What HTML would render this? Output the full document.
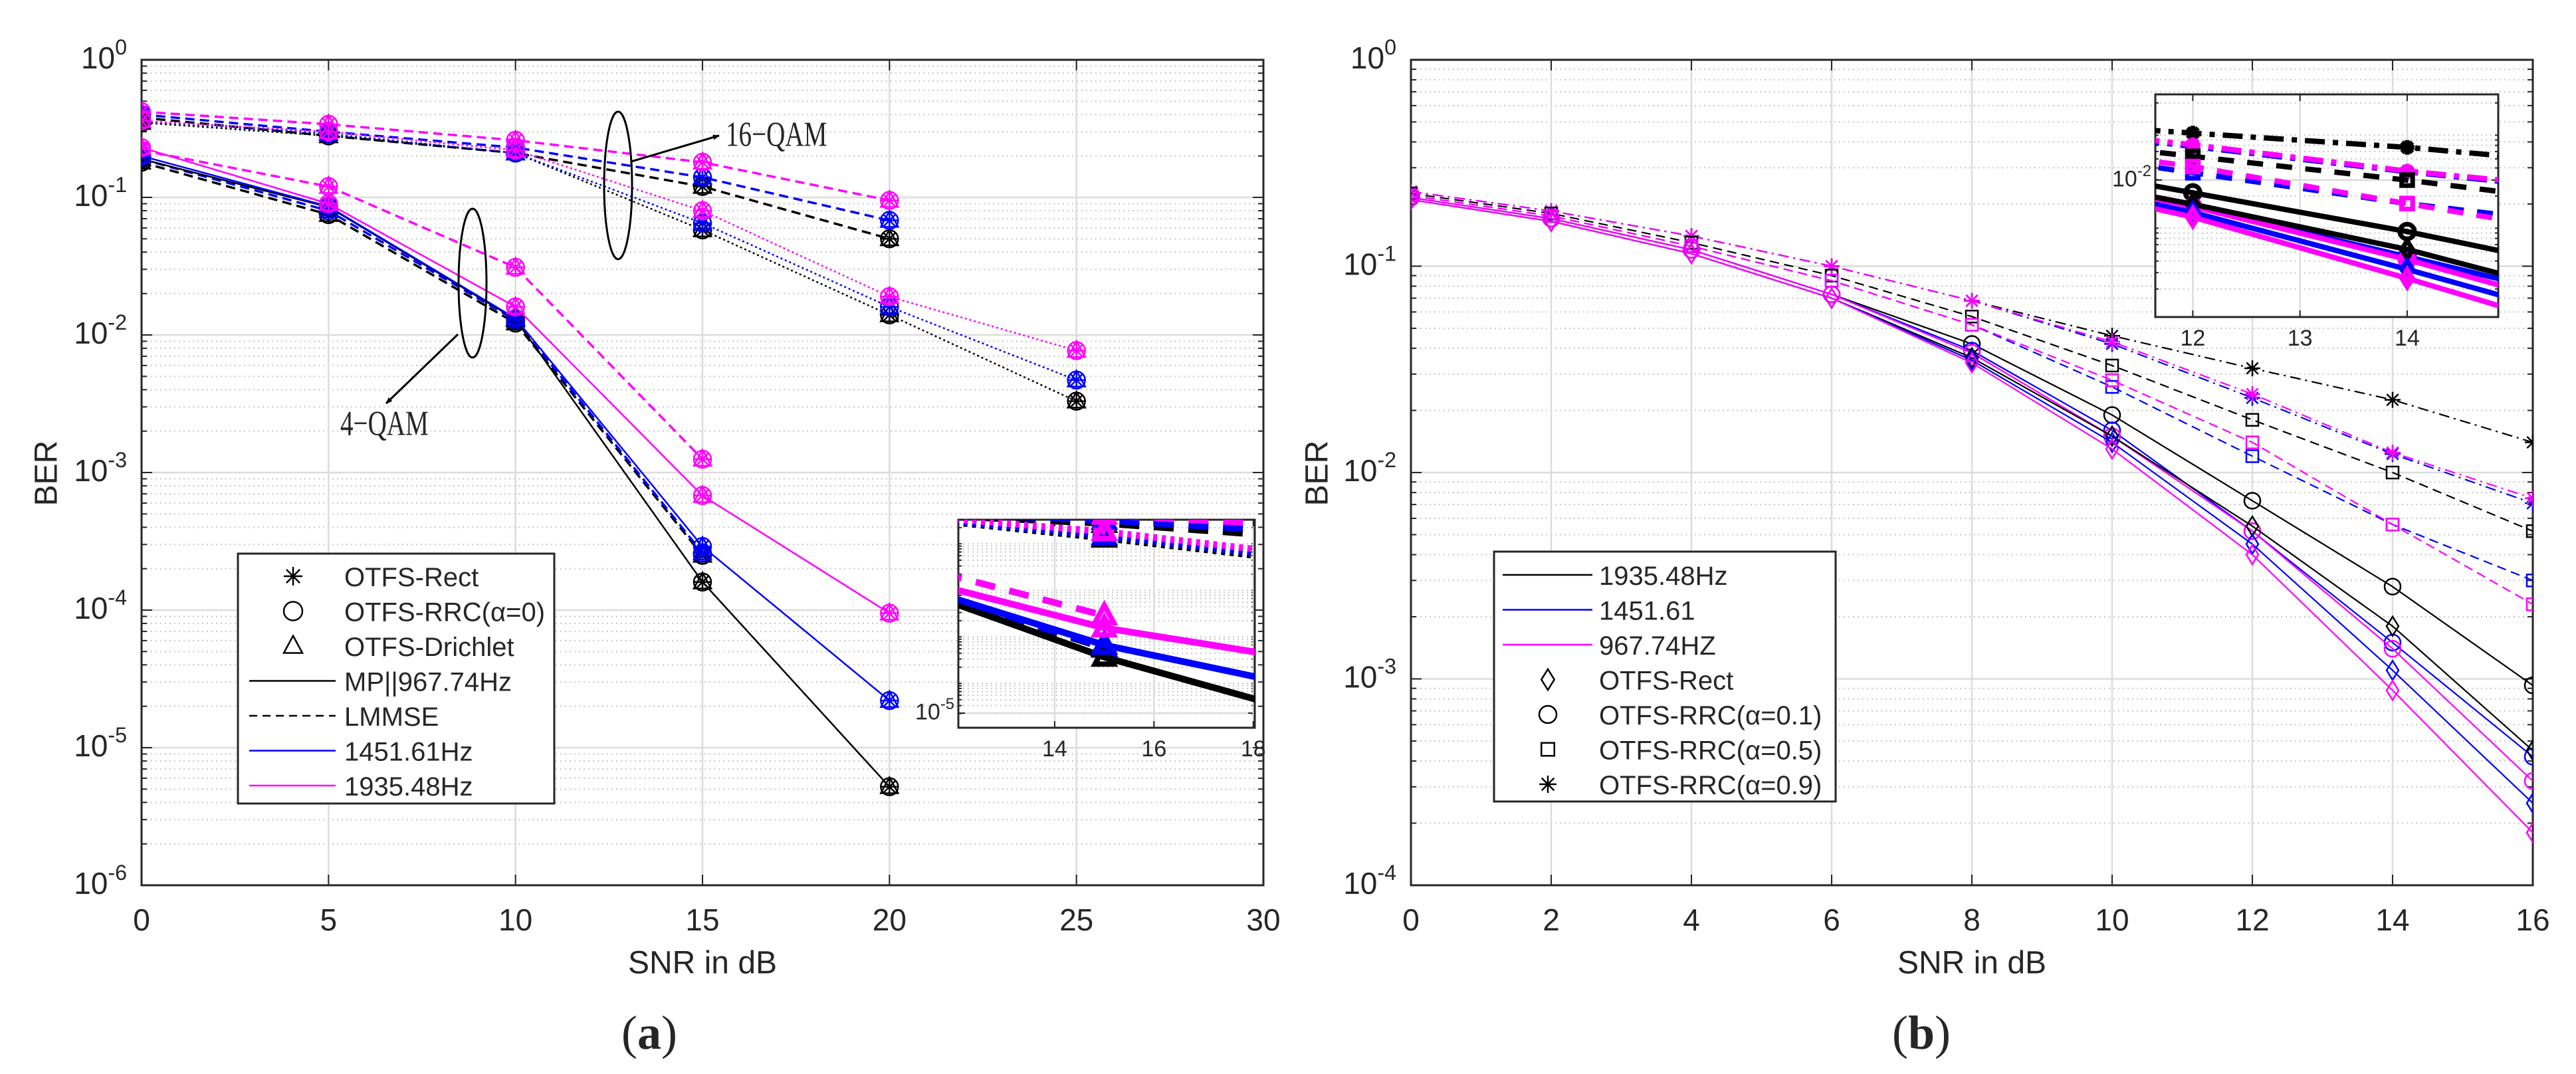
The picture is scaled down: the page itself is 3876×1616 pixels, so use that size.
<!DOCTYPE html>
<html><head><meta charset="utf-8">
<style>
html,body{margin:0;padding:0;background:#fff;}
svg{display:block;}
text{font-family:"Liberation Sans",sans-serif;fill:#262626;}
</style></head>
<body>
<svg id="fig" width="3876" height="1616" viewBox="0 0 3876 1616" xmlns="http://www.w3.org/2000/svg">
<defs>
<clipPath id="clipA"><rect x="213" y="90" width="1688" height="1242"/></clipPath>
<clipPath id="clipB"><rect x="2123" y="90" width="1688" height="1242"/></clipPath>
<clipPath id="clipIA"><rect x="1442" y="782" width="446" height="313"/></clipPath>
<clipPath id="clipIB"><rect x="3243" y="142" width="516" height="335"/></clipPath>
<marker id="arrowhead" markerWidth="10" markerHeight="8" refX="9" refY="4" orient="auto" markerUnits="userSpaceOnUse" viewBox="0 0 10 8"><path d="M0,0 L10,4 L0,8 Z" fill="#000"/></marker>
</defs>
</svg>
<script>
// ===== Chart (a) data =====
const snrA = [0, 5, 10, 15, 20, 25];
const xTicksA = [0, 5, 10, 15, 20, 25, 30];
const yDecadesA = [0, -1, -2, -3, -4, -5, -6];
// 4-QAM MP (solid)
const qam4MpBlack = [0.19, 0.085, 0.013, 1.6e-4, 5.2e-6];
const qam4MpBlue = [0.20, 0.086, 0.0132, 2.9e-4, 2.2e-5];
const qam4MpMagenta = [0.23, 0.09, 0.016, 6.8e-4, 9.5e-5];
// 4-QAM LMMSE (dashed)
const qam4LmBlack = [0.18, 0.075, 0.0122, 2.5e-4];
const qam4LmBlue = [0.19, 0.08, 0.0128, 2.6e-4];
const qam4LmMagenta = [0.22, 0.12, 0.031, 1.25e-3];
// 16-QAM LMMSE (dashed)
const qam16LmBlack = [0.38, 0.28, 0.21, 0.12, 0.05];
const qam16LmBlue = [0.40, 0.30, 0.23, 0.14, 0.068];
const qam16LmMagenta = [0.42, 0.34, 0.26, 0.18, 0.095];
// 16-QAM MP (dotted)
const qam16MpBlack = [0.35, 0.28, 0.21, 0.058, 0.014, 0.0033];
const qam16MpBlue = [0.36, 0.29, 0.21, 0.065, 0.016, 0.0047];
const qam16MpMagenta = [0.36, 0.30, 0.22, 0.08, 0.019, 0.0077];

// ===== Chart (b) data =====
const snrB = [0, 2, 4, 6, 8, 10, 12, 14, 16];
const xTicksB = [0, 2, 4, 6, 8, 10, 12, 14, 16];
const yDecadesB = [0, -1, -2, -3, -4];
const rectBlack = [0.21, 0.165, 0.115, 0.07, 0.036, 0.015, 0.0055, 0.0018, 0.00045];
const rectBlue = [0.21, 0.165, 0.115, 0.07, 0.035, 0.014, 0.0045, 0.0011, 0.00025];
const rectMagenta = [0.21, 0.165, 0.115, 0.07, 0.034, 0.013, 0.004, 0.00088, 0.00018];
const rrc01Black = [0.215, 0.17, 0.12, 0.073, 0.042, 0.019, 0.0073, 0.0028, 0.00093];
const rrc01Blue = [0.215, 0.17, 0.12, 0.073, 0.039, 0.016, 0.0052, 0.0015, 0.00042];
const rrc01Magenta = [0.215, 0.17, 0.12, 0.073, 0.038, 0.015, 0.0052, 0.0014, 0.00032];
const rrc05Black = [0.225, 0.18, 0.13, 0.09, 0.057, 0.033, 0.018, 0.010, 0.0052];
const rrc05Blue = [0.22, 0.175, 0.125, 0.085, 0.052, 0.026, 0.012, 0.0056, 0.003];
const rrc05Magenta = [0.22, 0.175, 0.125, 0.085, 0.052, 0.028, 0.014, 0.0056, 0.0023];
const rrc09Black = [0.23, 0.185, 0.14, 0.10, 0.068, 0.046, 0.032, 0.0225, 0.014];
const rrc09Blue = [0.23, 0.185, 0.14, 0.10, 0.068, 0.042, 0.023, 0.0123, 0.0071];
const rrc09Magenta = [0.23, 0.185, 0.14, 0.10, 0.068, 0.043, 0.024, 0.0125, 0.0075];

const NS = "http://www.w3.org/2000/svg";
const svg = document.getElementById('fig');
const BLACK = '#000', BLUE = '#0000ff', MAG = '#ff00ff';

function el(tag, attrs, parent) {
  const e = document.createElementNS(NS, tag);
  for (const k in attrs) e.setAttribute(k, attrs[k]);
  (parent || svg).appendChild(e);
  return e;
}
function txt(x, y, s, size, anchor, parent, extra) {
  const t = el('text', Object.assign({x: x, y: y, 'font-size': size, 'text-anchor': anchor || 'middle', 'dominant-baseline': 'central'}, extra || {}), parent);
  t.textContent = s;
  return t;
}

function makeAxes(ax) {
  ax.sx = v => ax.x0 + (v - ax.xmin) / (ax.xmax - ax.xmin) * (ax.x1 - ax.x0);
  ax.sy = v => ax.y0 + (ax.lmax - Math.log10(v)) / (ax.lmax - ax.lmin) * (ax.y1 - ax.y0);
  return ax;
}

function drawFrame(ax, xticks, decades, name, tickSize, decadeLabels) {
  const g = el('g', {});
  
  
  el('rect', {x: ax.x0, y: ax.y0, width: ax.x1 - ax.x0, height: ax.y1 - ax.y0, fill: '#fff'}, g);
  for (let d = ax.lmin; d < ax.lmax; d++) {
    for (let k = 2; k <= 9; k++) {
      const y = ax.sy(k * Math.pow(10, d));
      if (y < ax.y0 || y > ax.y1) continue;
      const ln = el('line', {x1: ax.x0, x2: ax.x1, y1: y, y2: y, stroke: '#c8c8c8', 'stroke-width': 2, 'stroke-dasharray': '2,5'}, g);
      
      
      el('line', {x1: ax.x0, x2: ax.x0 + ax.tk * 0.5, y1: y, y2: y, stroke: '#262626', 'stroke-width': 2}, g);
      el('line', {x1: ax.x1, x2: ax.x1 - ax.tk * 0.5, y1: y, y2: y, stroke: '#262626', 'stroke-width': 2}, g);
    }
  }
  decades.forEach(d => {
    const y = ax.sy(Math.pow(10, d));
    if (y < ax.y0 - 1 || y > ax.y1 + 1) return;
    const ln = el('line', {x1: ax.x0, x2: ax.x1, y1: y, y2: y, stroke: '#dcdcdc', 'stroke-width': 2.5}, g);
    
    
    el('line', {x1: ax.x0, x2: ax.x0 + ax.tk, y1: y, y2: y, stroke: '#262626', 'stroke-width': 2}, g);
    el('line', {x1: ax.x1, x2: ax.x1 - ax.tk, y1: y, y2: y, stroke: '#262626', 'stroke-width': 2}, g);
    if (decadeLabels) {
      const t = el('text', {x: ax.x0 - ax.lblGap, y: y + tickSize * 0.28, 'font-size': tickSize, 'text-anchor': 'end'}, g);
      
      
      const base = document.createElementNS(NS, 'tspan'); base.textContent = '10'; t.appendChild(base);
      const sup = document.createElementNS(NS, 'tspan');
      sup.setAttribute('dy', -tickSize * 0.45); sup.setAttribute('font-size', tickSize * 0.7);
      sup.textContent = String(d); t.appendChild(sup);
    }
  });
  xticks.forEach(v => {
    const x = ax.sx(v);
    if (x < ax.x0 - 1 || x > ax.x1 + 1) return;
    const ln = el('line', {x1: x, x2: x, y1: ax.y0, y2: ax.y1, stroke: '#dcdcdc', 'stroke-width': 2.5}, g);
    
    
    el('line', {x1: x, x2: x, y1: ax.y1, y2: ax.y1 - ax.tk, stroke: '#262626', 'stroke-width': 2}, g);
    el('line', {x1: x, x2: x, y1: ax.y0, y2: ax.y0 + ax.tk, stroke: '#262626', 'stroke-width': 2}, g);
    const t = txt(x, ax.y1 + ax.xlblGap, String(v), tickSize, 'middle', g);
    
    
  });
  el('rect', {x: ax.x0, y: ax.y0, width: ax.x1 - ax.x0, height: ax.y1 - ax.y0, fill: 'none', stroke: '#262626', 'stroke-width': 3}, g);
  return g;
}

function marker(g, type, cx, cy, r, color, sw) {
  let m;
  if (type === 'circle') m = el('circle', {cx: cx, cy: cy, r: r, fill: 'none', stroke: color, 'stroke-width': sw}, g);
  else if (type === 'triangle') m = el('path', {d: `M${cx},${cy - r * 1.1} L${cx + r},${cy + r * 0.75} L${cx - r},${cy + r * 0.75} Z`, fill: 'none', stroke: color, 'stroke-width': sw}, g);
  else if (type === 'diamond') m = el('path', {d: `M${cx},${cy - r * 1.2} L${cx + r * 0.75},${cy} L${cx},${cy + r * 1.2} L${cx - r * 0.75},${cy} Z`, fill: 'none', stroke: color, 'stroke-width': sw}, g);
  else if (type === 'square') m = el('rect', {x: cx - r * 0.75, y: cy - r * 0.75, width: r * 1.5, height: r * 1.5, fill: 'none', stroke: color, 'stroke-width': sw}, g);
  else {
    const a = r * 0.72;
    m = el('path', {d: `M${cx},${cy - r} L${cx},${cy + r} M${cx - a},${cy - a} L${cx + a},${cy + a} M${cx - a},${cy + a} L${cx + a},${cy - a} M${cx - r},${cy} L${cx + r},${cy}`, fill: 'none', stroke: color, 'stroke-width': sw}, g);
  }
  return m;
}

function series(ax, xs, ys, color, dash, width, markers, mr, msw, clip, name) {
  const g = el('g', {'clip-path': 'url(#' + clip + ')'});
  
  
  const pts = ys.map((v, i) => ax.sx(xs[i]).toFixed(1) + ',' + ax.sy(v).toFixed(1)).join(' ');
  const pl = el('polyline', {points: pts, fill: 'none', stroke: color, 'stroke-width': width, 'stroke-dasharray': dash || 'none', 'stroke-linejoin': 'round'}, g);
  
  
  ys.forEach((v, i) => {
    markers.forEach(mt => {
      const m = marker(g, mt, ax.sx(xs[i]), ax.sy(v), mr, color, msw);
      
      
    });
  });
  return g;
}

const DASH = '14,8', DOT = '3,4', DASHDOT = '16,7,3,7';

// ===== Chart (a) =====
const axA = makeAxes({x0: 213, x1: 1901, y0: 90, y1: 1332, xmin: 0, xmax: 30, lmin: -6, lmax: 0, tk: 16, lblGap: 22, xlblGap: 52});
drawFrame(axA, xTicksA, yDecadesA, 'chart-a', 46, true);
const allA = [
  ['qam16-lmmse-black', qam16LmBlack, BLACK, DASH], ['qam16-lmmse-blue', qam16LmBlue, BLUE, DASH], ['qam16-lmmse-magenta', qam16LmMagenta, MAG, DASH],
  ['qam16-mp-black', qam16MpBlack, BLACK, DOT], ['qam16-mp-blue', qam16MpBlue, BLUE, DOT], ['qam16-mp-magenta', qam16MpMagenta, MAG, DOT],
  ['qam4-lmmse-black', qam4LmBlack, BLACK, DASH], ['qam4-lmmse-blue', qam4LmBlue, BLUE, DASH], ['qam4-lmmse-magenta', qam4LmMagenta, MAG, DASH],
  ['qam4-mp-black', qam4MpBlack, BLACK, null], ['qam4-mp-blue', qam4MpBlue, BLUE, null], ['qam4-mp-magenta', qam4MpMagenta, MAG, null]
];
allA.forEach(s => series(axA, snrA, s[1], s[2], s[3], s[3] === DASH ? 3.5 : 2.5, ['star', 'circle', 'triangle'], 13, 2.5, 'clipA', 'chart-a-' + s[0]));

// inset (a)
const inA = makeAxes({x0: 1442, x1: 1888, y0: 782, y1: 1095, xmin: 12.06, xmax: 18.03, lmin: -5 - 22 / 70, lmax: -5 + 291 / 70, tk: 10, lblGap: 6, xlblGap: 32});
drawFrame(inA, [14, 16, 18], [-5], 'inset-a', 34, true);
allA.forEach(s => series(inA, snrA, s[1], s[2], s[3] === DASH ? '30,22' : s[3] === DOT ? '6,7' : null, 10, ['triangle'], 14, 8, 'clipIA', 'inset-a-' + s[0]));

// annotations (a)
(function () {
  const g = el('g', {});
  
  
  const e1 = el('ellipse', {cx: 930, cy: 279, rx: 21, ry: 111, fill: 'none', stroke: '#000', 'stroke-width': 3}, g);
   
  const a1 = el('line', {x1: 950, y1: 243, x2: 1082, y2: 204, stroke: '#000', 'stroke-width': 3, 'marker-end': 'url(#arrowhead)'}, g);
   
  const t1 = txt(1092, 203, '16−QAM', 46, 'start', g, {style: 'font-family:"Liberation Serif",serif', transform: 'translate(1092,203) scale(0.85,1.15) translate(-1092,-203)'});
   
  const e2 = el('ellipse', {cx: 711, cy: 426, rx: 21, ry: 112, fill: 'none', stroke: '#000', 'stroke-width': 3}, g);
   
  const a2 = el('line', {x1: 689, y1: 503, x2: 581, y2: 607, stroke: '#000', 'stroke-width': 3, 'marker-end': 'url(#arrowhead)'}, g);
   
  const t2 = txt(512, 638, '4−QAM', 46, 'start', g, {style: 'font-family:"Liberation Serif",serif', transform: 'translate(512,638) scale(0.85,1.15) translate(-512,-638)'});
   
})();

// legend (a)
(function () {
  const g = el('g', {});
  
  
  el('rect', {x: 358, y: 833, width: 476, height: 376, fill: '#fff', stroke: '#262626', 'stroke-width': 3}, g);
  const rows = [
    ['star', null, BLACK, 'OTFS-Rect'], ['circle', null, BLACK, 'OTFS-RRC(α=0)'], ['triangle', null, BLACK, 'OTFS-Drichlet'],
    [null, 'none', BLACK, 'MP||967.74Hz'], [null, '12,8', BLACK, 'LMMSE'], [null, 'none', BLUE, '1451.61Hz'], [null, 'none', MAG, '1935.48Hz']
  ];
  rows.forEach((r, i) => {
    const y = 867 + i * 52.5;
    const eg = el('g', {}, g);
    
    
    if (r[0]) marker(eg, r[0], 441, y, 14, r[2], 2.5);
    else el('line', {x1: 375, x2: 505, y1: y, y2: y, stroke: r[2], 'stroke-width': 2.5, 'stroke-dasharray': r[1]}, eg);
    txt(518, y + 2, r[3], 40, 'start', eg);
  });
})();

// axis titles (a)
(function () {
  const t1 = txt(70, 712, 'BER', 48, 'middle', null, {transform: 'rotate(-90 70 712)'});
   
  const t2 = txt(1057, 1449, 'SNR in dB', 48, 'middle');
   
  const t3 = el('text', {x: 977, y: 1578, 'font-size': 72, 'text-anchor': 'middle', style: 'font-family:"Liberation Serif",serif'});
  t3.innerHTML = '(<tspan font-weight="bold">a</tspan>)';
   
})();

// ===== Chart (b) =====
const axB = makeAxes({x0: 2123, x1: 3811, y0: 90, y1: 1332, xmin: 0, xmax: 16, lmin: -4, lmax: 0, tk: 16, lblGap: 22, xlblGap: 52});
drawFrame(axB, xTicksB, yDecadesB, 'chart-b', 46, true);
const allB = [
  ['rrc09-black', rrc09Black, BLACK, DASHDOT, 'star'], ['rrc09-blue', rrc09Blue, BLUE, DASHDOT, 'star'], ['rrc09-magenta', rrc09Magenta, MAG, DASHDOT, 'star'],
  ['rrc05-black', rrc05Black, BLACK, DASH, 'square'], ['rrc05-blue', rrc05Blue, BLUE, DASH, 'square'], ['rrc05-magenta', rrc05Magenta, MAG, DASH, 'square'],
  ['rrc01-black', rrc01Black, BLACK, null, 'circle'], ['rrc01-blue', rrc01Blue, BLUE, null, 'circle'], ['rrc01-magenta', rrc01Magenta, MAG, null, 'circle'],
  ['rect-black', rectBlack, BLACK, null, 'diamond'], ['rect-blue', rectBlue, BLUE, null, 'diamond'], ['rect-magenta', rectMagenta, MAG, null, 'diamond']
];
allB.forEach(s => series(axB, snrB, s[1], s[2], s[3], 2.2, [s[4]], 12, 2.5, 'clipB', 'chart-b-' + s[0]));

// inset (b)
const inB = makeAxes({x0: 3243, x1: 3759, y0: 142, y1: 477, xmin: 11.65, xmax: 14.85, lmin: -2 - 206 / 140, lmax: -2 + 129 / 140, tk: 10, lblGap: 6, xlblGap: 32});
drawFrame(inB, [12, 13, 14], [-2], 'inset-b', 34, true);
allB.forEach(s => series(inB, snrB, s[1], s[2], s[3] === DASH ? '24,20' : s[3] === DASHDOT ? '30,12,8,12' : null, 8, [s[4]], 11, 7, 'clipIB', 'inset-b-' + s[0]));

// legend (b)
(function () {
  const g = el('g', {});
  
  
  el('rect', {x: 2248, y: 830, width: 514, height: 376, fill: '#fff', stroke: '#262626', 'stroke-width': 3}, g);
  const rows = [
    [null, BLACK, '1935.48Hz'], [null, BLUE, '1451.61'], [null, MAG, '967.74HZ'],
    ['diamond', BLACK, 'OTFS-Rect'], ['circle', BLACK, 'OTFS-RRC(α=0.1)'], ['square', BLACK, 'OTFS-RRC(α=0.5)'], ['star', BLACK, 'OTFS-RRC(α=0.9)']
  ];
  rows.forEach((r, i) => {
    const y = 865 + i * 52.5;
    const eg = el('g', {}, g);
    
    
    if (r[0]) marker(eg, r[0], 2329, y, 13, r[1], 2.5);
    else el('line', {x1: 2261, x2: 2396, y1: y, y2: y, stroke: r[1], 'stroke-width': 2.5}, eg);
    txt(2406, y + 2, r[2], 40, 'start', eg);
  });
})();

// axis titles (b)
(function () {
  const t1 = txt(1982, 712, 'BER', 48, 'middle', null, {transform: 'rotate(-90 1982 712)'});
   
  const t2 = txt(2967, 1449, 'SNR in dB', 48, 'middle');
   
  const t3 = el('text', {x: 2891, y: 1578, 'font-size': 72, 'text-anchor': 'middle', style: 'font-family:"Liberation Serif",serif'});
  t3.innerHTML = '(<tspan font-weight="bold">b</tspan>)';
   
})();
</script>
</body></html>
